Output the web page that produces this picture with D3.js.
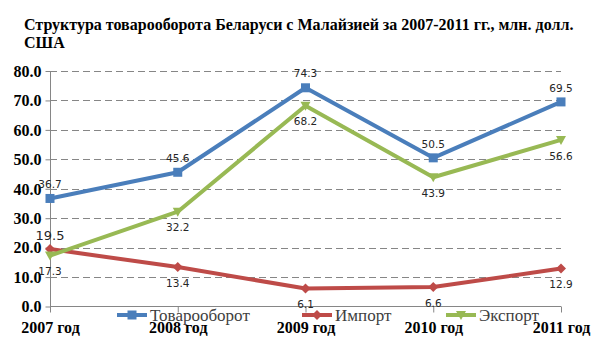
<!DOCTYPE html>
<html><head><meta charset="utf-8">
<script src="https://cdn.jsdelivr.net/npm/d3@7"></script>
<style>body{margin:0;background:#fff}svg{display:block}</style>
</head><body>
<script>
const categories = ["2007 год","2008 год","2009 год","2010 год","2011 год"];
const turnover = [36.7, 45.6, 74.3, 50.5, 69.5];
const imports  = [19.5, 13.4, 6.1, 6.6, 12.9];
const exports_ = [17.3, 32.2, 68.2, 43.9, 56.6];
const seriesNames = ["Товарооборот","Импорт","Экспорт"];
const yTicks = [0,10,20,30,40,50,60,70,80];
const titleLines = ["Структура товарооборота Беларуси с Малайзией за 2007-2011 гг., млн. долл.","США"];

const SERIF="'Liberation Serif','Times New Roman','DejaVu Serif',serif";
const SANS="'DejaVu Sans',sans-serif";
const W=605,H=340;
const svg=d3.select("body").append("svg").attr("width",W).attr("height",H);
const x=d3.scalePoint().domain(categories).range([50,561]);
const y=d3.scaleLinear().domain([0,80]).range([306.5,71]);

const series=[
  {name:seriesNames[0],values:turnover,color:"#4a7ebb",marker:"square",pos:"above"},
  {name:seriesNames[1],values:imports,color:"#be4b48",marker:"diamond",pos:"below"},
  {name:seriesNames[2],values:exports_,color:"#98b954",marker:"tri",pos:"below"}
];

// title
const t=svg.append("text").attr("x",24).attr("y",30)
  .style("font-family",SERIF).attr("font-weight","bold").attr("font-size",16).attr("fill","#000");
titleLines.forEach((l,i)=>t.append("tspan").attr("x",24).attr("dy",i?17.5:0).text(l));

// grid
svg.append("g").selectAll("line").data(yTicks.filter(v=>v>0)).join("line")
  .attr("x1",50).attr("x2",561).attr("y1",d=>Math.round(y(d))+0.5).attr("y2",d=>Math.round(y(d))+0.5)
  .attr("stroke","#868686").attr("stroke-dasharray","7,4");

// y axis
const ya=svg.append("g").attr("transform","translate(50.5,0)")
  .call(d3.axisLeft(y).tickValues(yTicks).tickFormat(d3.format(".1f")).tickSize(5).tickPadding(4));
ya.attr("font-family",null);
ya.select(".domain").attr("stroke","#868686").attr("d","M0,71V306.5");
ya.selectAll(".tick line").attr("stroke","#868686");
ya.selectAll("text").style("font-family",SERIF).attr("font-weight","bold").style("font-size","16px").attr("fill","#000").attr("dy","0.33em");

// x axis
const xa=svg.append("g").attr("transform","translate(0,306.5)")
  .call(d3.axisBottom(x).tickSize(6).tickPadding(9));
xa.attr("font-family",null);
xa.select(".domain").attr("stroke","#868686").attr("d","M50,0H561");
xa.selectAll(".tick line").attr("stroke","#868686");
xa.selectAll("text").style("font-family",SERIF).attr("font-weight","bold").style("font-size","16px").attr("fill","#000");

function marker(g,type,color){
  if(type==="square") g.append("rect").attr("x",-4.5).attr("y",-4.5).attr("width",9).attr("height",9).attr("fill",color);
  else if(type==="diamond") g.append("path").attr("d","M0,-5L5,0L0,5L-5,0Z").attr("fill",color);
  else g.append("path").attr("d","M-5,-4L5,-4L0,5Z").attr("fill",color);
}

const line=d3.line().x((d,i)=>x(categories[i])).y(d=>y(d));
series.forEach(s=>{
  svg.append("path").datum(s.values).attr("d",line).attr("fill","none")
    .attr("stroke",s.color).attr("stroke-width",4).attr("stroke-linejoin","round");
  s.values.forEach((v,i)=>{
    const g=svg.append("g").attr("transform",`translate(${x(categories[i])},${y(v)})`);
    marker(g,s.marker,s.color);
  });
});
// data labels
series.forEach(s=>{
  s.values.forEach((v,i)=>{
    const big = (s.name===seriesNames[1] && i===0);
    const dy = (s.pos==="above"||big) ? -14 : 16;
    svg.append("text").attr("x",x(categories[i])).attr("y",y(v)+dy)
      .attr("text-anchor","middle").attr("dy","0.35em")
      .style("font-family",SANS).style("font-size",big?"13px":"10.5px").attr("fill","#262626")
      .text(d3.format(".1f")(v));
  });
});

// legend
const legX=[117,302,446];
series.forEach((s,i)=>{
  const g=svg.append("g").attr("transform",`translate(${legX[i]},315)`);
  g.append("line").attr("x1",0).attr("x2",30).attr("stroke",s.color).attr("stroke-width",4);
  const m=g.append("g").attr("transform","translate(15,0)");
  marker(m,s.marker,s.color);
  g.append("text").attr("x",33).attr("y",6).style("font-family",SERIF).style("font-size","17px").attr("fill","#404040").text(s.name);
});
</script>
</body></html>
